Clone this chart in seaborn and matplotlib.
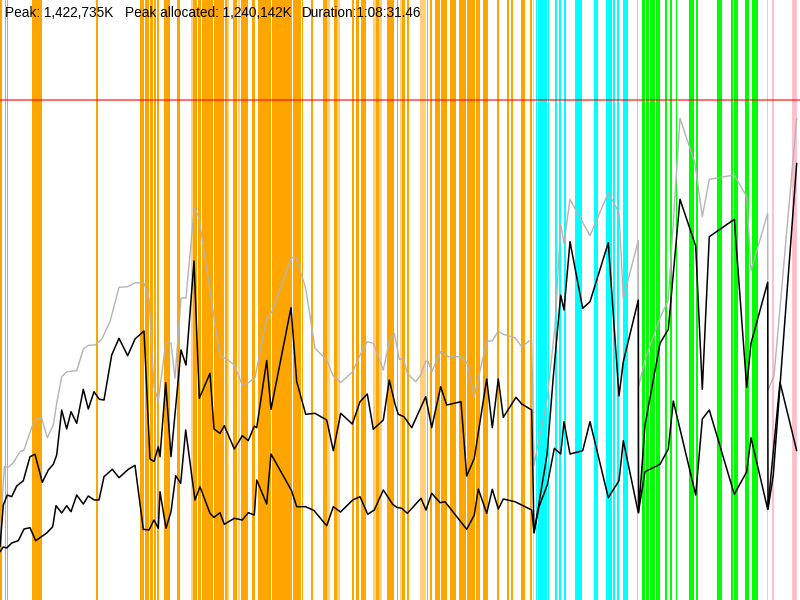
import matplotlib
matplotlib.use("Agg")
import matplotlib.pyplot as plt
import pandas as pd
import seaborn as sns

# ---- data (time axis in screen-time units 0..800, memory in chart units 0..600) ----
peak_level = 500
title_parts = ["Peak: 1,422,735K", "Peak allocated: 1,240,142K", "Duration:1:08:31.46"]

heap_total = [(0, 60), (4.3, 133.3), (8.3, 132.7), (13.3, 137.3), (20, 148.3), (24, 150),
              (31.7, 172.7), (36, 180.7), (41.7, 181.7), (47.3, 162.3), (53.3, 175), (56.7, 196.7),
              (61.7, 223.3), (66.7, 228.3), (76.7, 229.3), (83.3, 250.7), (88.3, 254.7), (95, 255),
              (101.7, 260.7), (110, 278.3), (119, 312.7), (127.7, 313.3), (135, 317.3), (144, 316.7),
              (149, 301.7), (154, 213.3), (158.3, 199), (165.7, 257), (171, 257), (175, 221.5),
              (181, 302), (186, 302), (194.3, 392.7), (199, 382), (220, 243.3), (225.7, 241.7),
              (234.3, 235), (242.3, 215), (248.3, 217.3), (255, 222.3), (266.7, 282), (271.5, 287.5),
              (291.5, 342.5), (296.3, 342), (305.7, 311.7), (315, 251.7), (326.7, 240), (333, 224.5),
              (340.7, 217.5), (352.7, 228.3), (360, 245), (367.3, 258.3), (373.3, 256.7), (383.3, 230),
              (390, 261.7), (394.3, 266.7), (399.3, 240.7), (403.3, 241.7), (407.3, 226.7), (415.7, 218.3),
              (420.7, 225), (425.7, 239), (428.3, 238.3), (431.7, 228.3), (440.7, 248.3), (448.3, 243.3),
              (461, 243.3), (467.3, 236.7), (474.3, 203.3), (486.7, 259), (492.3, 259), (498.3, 269),
              (503.3, 265.7), (515, 262.3), (521.7, 253.3), (531.7, 260.7), (534, 135), (539, 160),
              (547, 200), (555, 273.3), (560.7, 376), (564, 356.7), (570, 400.7), (590, 364.3),
              (608.3, 407.3), (619, 387.3), (623.3, 301.7), (638.3, 359.3), (638.6, 213.3), (645, 240),
              (660, 282), (668.3, 300), (680, 481.7), (695, 436.7), (702.3, 383.3), (709.3, 420.7),
              (734.3, 425), (746.7, 403.3), (751, 329.3), (767.7, 386.7), (768, 210), (774, 224),
              (796.7, 481.7)]

heap_allocated = [(0, 53.3), (3.3, 95), (7.3, 105), (11.7, 103.3), (16.7, 114), (23.3, 119.3),
                  (30, 143.3), (35, 145.7), (42.3, 117.7), (48.3, 130), (53.3, 135.7), (56.7, 145),
                  (61.7, 190), (66.7, 171), (71, 188.3), (76.7, 176.7), (83.3, 210.7), (88.3, 191),
                  (94, 208.3), (99.3, 200.7), (104, 200), (111.7, 245), (119, 261.7), (127.7, 244.3),
                  (135, 261), (144, 269), (150, 141), (154, 138.5), (158.3, 153.3), (160, 143.3),
                  (165.7, 217.3), (171, 143.3), (181, 250), (186, 235), (194, 339), (199.3, 201.7),
                  (210, 226.7), (214, 171), (220, 166.7), (224.3, 174.3), (234.3, 151), (242.3, 164.3),
                  (248.3, 159.3), (254.3, 174), (256.7, 172.3), (266.7, 239.5), (271, 190.7), (291, 292.3),
                  (296.7, 218.5), (305.7, 185.7), (315, 186.7), (326.7, 180), (333.3, 149.3), (340.7, 186.7),
                  (352.3, 176), (360, 198.3), (367.3, 206), (373.3, 170.7), (383.3, 180), (389.3, 220),
                  (395, 196), (398.3, 185.7), (404, 183.3), (411.7, 172.3), (425.7, 203.3), (431.7, 172.3),
                  (440.7, 213.3), (446.7, 195), (461, 198.3), (466.7, 124), (474.3, 141.7), (486.7, 221),
                  (492.3, 172.3), (498.3, 221), (503.3, 182.7), (516, 202.7), (521.7, 196), (531.7, 190),
                  (534, 67.3), (539, 97), (547, 145), (553.3, 223.3), (560.7, 305), (564, 290),
                  (570, 358.3), (582.7, 291.7), (590, 298.3), (608.3, 357.3), (619, 204), (623.3, 238.3),
                  (638.3, 300), (638.6, 87.3), (645, 175), (660, 256.7), (668.3, 270.7), (680, 400.7),
                  (695.7, 354), (702.3, 210.7), (709.3, 363.3), (734.3, 380.7), (746.7, 212.7),
                  (751, 256.7), (767.7, 317.7), (768, 90.7), (773.3, 125), (796.7, 436.7)]

heap_live = [(0, 48.3), (3.3, 53), (6.7, 52), (11.7, 57), (18.3, 59.3), (24, 71), (30, 72.3),
             (35.7, 59.3), (46.7, 67), (52.7, 73.3), (56, 94.3), (61.7, 87), (66.7, 94.3), (71, 88.3),
             (76.7, 105), (83.3, 96), (88.3, 104), (94.3, 100), (99, 100), (104, 123.3), (112.3, 130.7),
             (119, 122.3), (128.3, 130.7), (135, 134.7), (143.3, 70.7), (149, 70), (154, 80),
             (158.3, 71.7), (160, 108.3), (166, 71.7), (171, 88.3), (175.7, 124.3), (180.7, 116.7),
             (185.7, 170), (195, 100), (200, 113.3), (210, 86.7), (214, 82.7), (220, 87.3), (224.3, 75.7),
             (234.3, 81.7), (242.3, 80), (248.3, 87.3), (254.3, 85), (256.7, 120), (266.7, 96),
             (271, 146), (291.5, 109.5), (296.7, 93.3), (305.5, 93.3), (314, 89.5), (326.7, 74.2),
             (333.3, 93.3), (340.5, 88), (352.7, 100), (360, 103.3), (367.7, 85.7), (374.3, 90),
             (383.3, 110), (392.7, 95.7), (396.7, 92.7), (401.7, 91.7), (407.3, 86.7), (421, 101.7),
             (426, 90), (431.7, 106.7), (440, 97.3), (445, 98.3), (466.7, 70.7), (474.3, 85),
             (478.3, 111), (486.7, 86.7), (492.3, 110.7), (498.3, 91), (503.3, 101), (515, 98.3),
             (531.7, 90), (534, 67.3), (539, 93.3), (547.3, 115), (554.3, 151.7), (560.7, 146),
             (564, 178.3), (570, 146), (582.7, 149.3), (590, 178.3), (608.3, 102.3), (619, 119.3),
             (623.3, 159.3), (638.3, 87.3), (645, 128.3), (660, 135.7), (668.3, 151), (673.3, 199),
             (695.7, 105), (702.3, 181), (709.3, 190), (734.3, 105.7), (746.7, 128.3), (751, 162.3),
             (767.7, 90.7), (780, 217.7), (796.7, 149.3)]

# GC / phase events: (start, end)
orange_events = [(0, 2), (5, 6), (6.6, 7.6), (32, 34.7), (35.3, 42), (96, 97.6), (140, 144),
                 (145, 149), (150, 153.3), (154, 156), (157.3, 158.7), (164, 170), (177, 180),
                 (193.3, 196.7), (198.3, 201), (201.7, 212.7), (213.7, 224), (224.7, 227),
                 (232.7, 237.3), (240.7, 248.3), (252, 255.3), (257.7, 271.3), (272.3, 277.5),
                 (278, 283.5), (284, 287.5), (288, 291.7), (292.7, 301), (301.7, 302.7), (311, 313.3),
                 (323.3, 327), (334, 337), (352.3, 354.3), (356, 359), (361, 365.7), (376, 379),
                 (387.3, 394.3), (396.7, 397.7), (402, 405), (406.7, 409.3), (427.3, 428.3),
                 (430, 432.3), (435, 440), (440.7, 446.7), (450, 456), (459, 466), (466.7, 475),
                 (476, 480), (483.3, 488.3), (497.3, 499.3), (506.7, 509), (510.7, 513.3), (521, 525),
                 (530, 531.5)]
orange_minor = [(191, 192.7), (227, 228.7), (238, 240), (327, 330), (337, 340), (373.3, 376),
                (379, 382.3), (400, 402), (420, 426)]
cyan_events = [(536, 537), (537.7, 546.7), (547.7, 549.3), (555, 556.7), (559, 561), (564.3, 565.7),
               (575, 581.7), (594, 597.7), (606, 607.7), (608.3, 611.7), (613.3, 615), (617.3, 619.3),
               (623.3, 627.7)]
cyan_minor = [(532.7, 534)]
green_events = [(641.7, 645), (645.7, 649.3), (650, 652.5), (653, 655), (656, 660), (665, 666.7),
                (670, 671.7), (675.7, 677.3), (689, 694), (695.7, 697.7), (716.7, 721.7),
                (730.7, 733.3), (734.3, 738.3), (745, 749.3), (752.3, 757.7)]
green_minor = [(636.7, 638.3)]
pink_events = [(766.7, 768.3), (771.7, 774), (791.7, 796.7)]

# ---- drawing ----
sns.set_theme(style="white")
plt.rcParams["font.family"] = ["Liberation Sans", "DejaVu Sans"]

fig = plt.figure(figsize=(8, 6), dpi=100)
ax = fig.add_axes([0, 0, 1, 1])

for spans, color, alpha in [(orange_events, "#FFA500", 1.0), (orange_minor, "#FFA500", 0.5),
                            (cyan_events, "#00FFFF", 1.0), (cyan_minor, "#00FFFF", 0.5),
                            (green_events, "#00FF00", 1.0), (green_minor, "#00FF00", 0.5),
                            (pink_events, "#FFC0CB", 1.0)]:
    for s, e in spans:
        ax.axvspan(s, e, color=color, alpha=alpha, lw=0, zorder=1)

ax.axhline(peak_level, color="red", alpha=0.55, lw=1.5, zorder=2)

def to_df(pts):
    return pd.DataFrame(pts, columns=["t", "mem"])

sns.lineplot(data=to_df(heap_total), x="t", y="mem", color="#b4b4b4", lw=1.0,
             estimator=None, sort=False, ax=ax, zorder=3)
sns.lineplot(data=to_df(heap_allocated), x="t", y="mem", color="black", lw=1.1,
             estimator=None, sort=False, ax=ax, zorder=4)
sns.lineplot(data=to_df(heap_live), x="t", y="mem", color="black", lw=1.1,
             estimator=None, sort=False, ax=ax, zorder=4)

ax.set_xlim(0, 800)
ax.set_ylim(0, 600)
ax.axis("off")

for xpix, txt in zip([5, 125.5, 301.5], title_parts):
    fig.text(xpix / 800, 1 - 17 / 600, txt, fontsize=9.8, va="baseline", ha="left", color="black")

fig.savefig("out.png", dpi=100)
